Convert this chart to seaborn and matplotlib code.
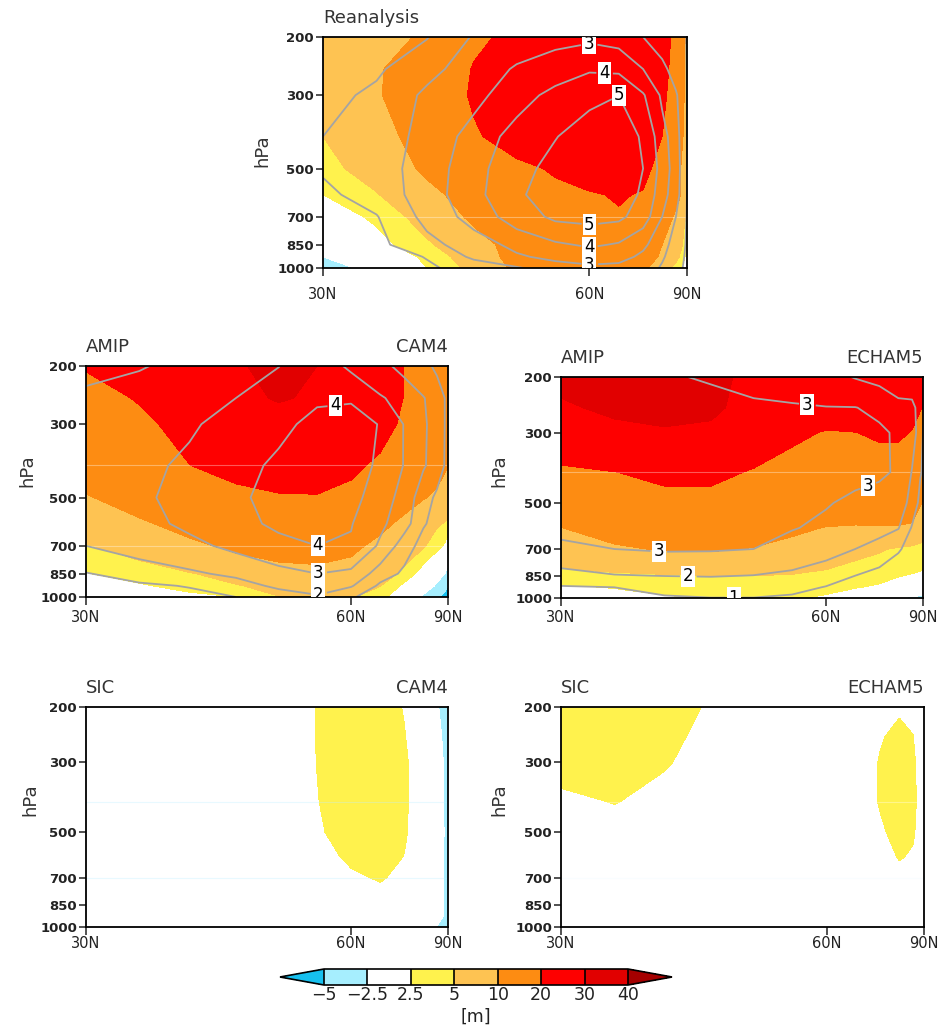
import numpy as np
import matplotlib
matplotlib.use("Agg")
import matplotlib.pyplot as plt
import seaborn as sns
from matplotlib.colors import ListedColormap, BoundaryNorm
from matplotlib.ticker import NullLocator, FuncFormatter

sns.set_style("ticks")
plt.rcParams["font.family"] = ["DejaVu Sans"]

# grid: latitude (deg N) and pressure level (hPa)
lats = [30, 35, 40, 45, 50, 55, 60, 65, 70, 75, 80, 85, 90]
plevs = [1000, 925, 850, 700, 600, 500, 400, 300, 250, 200]

# height anomaly [m], one row per pressure level (1000 -> 200), one column per latitude
rean_z = [
    [-4.5, -1.0, 2.5, 6.0, 11.0, 14.0, 15.0, 14.0, 11.0, 6.5, 4.0, 1.0, -3.0],
    [-2.5, 0.5, 3.0, 7.0, 12.0, 15.0, 17.0, 16.0, 13.0, 9.0, 6.0, 3.0, 0.0],
    [-1.0, 1.5, 4.5, 8.0, 12.0, 15.0, 17.0, 17.0, 15.0, 10.0, 7.5, 4.0, 2.0],
    [1.0, 3.0, 6.5, 11.0, 14.0, 17.0, 19.0, 19.5, 18.0, 13.0, 9.0, 5.5, 4.0],
    [2.5, 4.8, 8.5, 12.5, 15.5, 18.0, 19.5, 20.5, 19.5, 17.0, 12.0, 8.0, 6.0],
    [4.0, 6.5, 11.0, 14.0, 18.0, 21.0, 23.0, 24.0, 22.0, 17.0, 11.0, 9.0, 7.0],
    [5.0, 8.0, 12.5, 19.0, 24.0, 26.0, 27.0, 27.0, 25.0, 20.0, 14.0, 9.0, 7.5],
    [7.0, 9.5, 14.0, 21.0, 24.0, 26.0, 27.0, 27.0, 26.0, 22.0, 15.0, 10.0, 8.0],
    [7.5, 9.5, 13.0, 20.5, 24.0, 26.0, 27.0, 27.0, 26.0, 23.0, 16.0, 10.0, 8.0],
    [8.0, 8.8, 10.5, 18.5, 22.0, 24.0, 25.0, 25.0, 24.0, 22.0, 18.5, 10.5, 8.0],
]
rean_sn = [
    [0.0, 0.3, 0.85, 1.4, 1.9, 2.5, 2.8, 2.75, 2.4, 1.9, 1.3, 0.9, 0.5],
    [0.15, 0.5, 1.05, 2.2, 2.85, 3.3, 3.45, 3.3, 2.8, 2.1, 1.5, 1.0, 0.6],
    [0.3, 0.75, 1.7, 2.5, 3.3, 3.85, 4.15, 3.9, 3.2, 2.3, 1.6, 1.1, 0.7],
    [0.6, 0.95, 2.3, 3.4, 4.5, 5.2, 5.3, 5.2, 4.5, 3.0, 2.0, 1.3, 0.8],
    [0.8, 1.4, 2.5, 3.7, 4.85, 5.5, 5.7, 5.6, 4.8, 3.4, 2.3, 1.4, 0.9],
    [1.1, 1.6, 2.4, 3.7, 4.6, 5.4, 5.8, 5.8, 5.0, 3.6, 2.4, 1.4, 0.9],
    [1.0, 1.5, 2.3, 3.4, 4.4, 4.95, 5.6, 5.8, 4.8, 3.4, 2.3, 1.4, 0.9],
    [0.7, 1.2, 2.2, 2.7, 3.6, 4.3, 4.7, 5.0, 4.1, 2.8, 2.1, 1.3, 0.9],
    [0.5, 0.85, 1.7, 2.5, 3.1, 3.5, 3.9, 3.8, 3.0, 2.2, 1.6, 1.2, 0.9],
    [0.3, 0.6, 0.95, 2.1, 2.5, 2.7, 2.8, 2.6, 2.0, 1.6, 1.3, 1.1, 0.9],
]
cam4_amip_z = [
    [0.0, 0.8, 1.8, 2.5, 4.9, 5.5, 5.3, 3.3, 0.5, -3.0, -4.8, -5.8, -6.5],
    [1.2, 2.2, 3.4, 4.8, 6.0, 6.6, 6.0, 5.1, 1.8, -0.8, -3.0, -4.2, -5.5],
    [2.4, 3.5, 4.8, 6.3, 7.8, 8.5, 8.0, 6.5, 4.3, 1.0, -1.2, -2.6, -4.2],
    [4.8, 6.5, 8.8, 11.2, 12.8, 12.8, 11.2, 8.5, 6.8, 5.3, 3.3, 2.0, 0.5],
    [7.5, 9.2, 12.0, 15.0, 16.5, 16.5, 14.5, 11.5, 8.5, 6.5, 5.4, 4.7, 4.3],
    [9.6, 12.5, 15.0, 17.5, 19.2, 19.5, 18.0, 15.5, 12.5, 10.3, 9.0, 8.0, 7.5],
    [12.5, 15.0, 19.9, 23.0, 24.5, 24.0, 21.5, 18.5, 15.5, 13.5, 12.0, 10.5, 9.9],
    [15.0, 18.5, 22.5, 25.5, 27.5, 27.5, 25.5, 23.0, 18.5, 16.0, 14.5, 13.5, 13.0],
    [17.5, 20.5, 24.0, 28.5, 30.5, 29.2, 26.0, 23.5, 19.8, 17.0, 15.0, 14.0, 13.5],
    [20.5, 23.0, 25.0, 29.3, 32.0, 30.0, 27.0, 24.0, 19.8, 17.0, 15.0, 14.0, 13.5],
]
cam4_amip_sn = [
    [0.3, 0.5, 0.75, 1.0, 1.5, 1.9, 1.1, 0.5, 0.3, 0.25, 0.25, 0.25, 0.25],
    [0.6, 0.85, 1.05, 1.6, 2.2, 2.4, 2.1, 0.8, 0.45, 0.35, 0.3, 0.3, 0.3],
    [0.95, 1.4, 1.85, 2.2, 2.7, 3.0, 2.8, 1.5, 0.8, 0.5, 0.4, 0.35, 0.3],
    [2.0, 2.5, 2.75, 3.25, 3.7, 4.0, 3.9, 2.85, 1.45, 0.6, 0.45, 0.4, 0.4],
    [2.4, 2.7, 3.2, 3.7, 4.2, 4.35, 4.05, 3.2, 2.4, 1.1, 0.6, 0.5, 0.4],
    [2.55, 2.85, 3.3, 3.85, 4.3, 4.5, 4.3, 3.5, 2.6, 1.4, 0.8, 0.6, 0.5],
    [2.6, 2.8, 3.15, 3.65, 4.2, 4.5, 4.5, 3.8, 2.95, 2.1, 1.5, 0.9, 0.7],
    [2.7, 2.75, 2.9, 3.3, 3.75, 4.3, 4.4, 3.95, 2.95, 2.15, 1.5, 0.95, 0.7],
    [2.8, 2.7, 2.75, 3.0, 3.5, 3.85, 3.9, 3.1, 2.6, 2.05, 1.5, 0.95, 0.7],
    [3.3, 3.05, 2.8, 2.85, 2.98, 3.6, 2.8, 2.25, 1.7, 1.25, 0.8, 0.6, 0.5],
]
echam5_amip_z = [
    [1.2, 1.7, 2.3, 2.6, 2.7, 2.65, 2.3, 1.5, 0.0, -2.6, -3.0, -3.2, -3.5],
    [2.2, 2.6, 3.0, 3.3, 3.4, 3.2, 2.9, 2.6, 2.2, 1.7, 0.8, 0.0, -1.0],
    [3.8, 4.3, 4.7, 5.05, 5.0, 4.8, 4.2, 3.6, 3.2, 2.6, 2.35, 2.2, 2.1],
    [8.0, 9.5, 10.3, 10.5, 9.8, 8.5, 7.5, 6.0, 5.3, 4.6, 4.2, 3.8, 3.5],
    [9.95, 11.5, 13.0, 13.0, 12.0, 11.0, 9.8, 9.5, 9.6, 9.6, 9.3, 8.0, 7.0],
    [16.0, 17.0, 18.0, 18.0, 16.0, 15.0, 14.0, 13.5, 13.5, 13.5, 12.5, 10.3, 9.3],
    [18.5, 19.9, 21.5, 21.5, 19.5, 17.0, 16.0, 16.0, 16.5, 16.5, 16.0, 14.5, 13.0],
    [26.0, 28.0, 29.0, 28.5, 24.0, 21.5, 19.5, 19.9, 21.0, 21.0, 19.6, 17.0, 15.0],
    [29.0, 31.5, 33.0, 31.5, 27.0, 25.0, 24.0, 24.0, 24.0, 24.0, 23.0, 20.5, 19.5],
    [32.0, 33.0, 33.5, 32.0, 28.0, 26.0, 25.0, 25.0, 25.0, 25.0, 24.0, 23.0, 21.0],
]
echam5_amip_sn = [
    [0.6, 0.75, 0.9, 0.98, 0.98, 0.85, 0.6, 0.4, 0.2, 0.1, 0.0, 0.0, 0.0],
    [0.9, 1.0, 1.3, 1.5, 1.45, 1.3, 0.95, 0.7, 0.4, 0.2, 0.1, 0.0, 0.0],
    [1.7, 1.95, 2.02, 2.05, 1.98, 1.8, 1.5, 1.0, 0.7, 0.4, 0.2, 0.1, 0.0],
    [2.7, 3.0, 3.1, 3.08, 3.0, 2.7, 2.35, 2.0, 1.6, 1.1, 0.6, 0.3, 0.2],
    [3.35, 3.35, 3.3, 3.2, 3.1, 3.04, 2.85, 2.6, 2.35, 2.05, 0.9, 0.5, 0.3],
    [3.5, 3.5, 3.45, 3.35, 3.25, 3.15, 3.05, 2.85, 2.7, 2.4, 1.7, 0.6, 0.5],
    [3.6, 3.6, 3.55, 3.45, 3.35, 3.3, 3.25, 3.2, 3.12, 2.9, 1.95, 1.1, 0.7],
    [3.7, 3.7, 3.65, 3.55, 3.45, 3.35, 3.3, 3.25, 3.15, 2.85, 2.4, 1.45, 0.9],
    [3.6, 3.6, 3.5, 3.35, 3.15, 3.08, 3.03, 3.02, 2.8, 2.2, 2.2, 1.6, 1.2],
    [3.6, 3.5, 3.1, 2.9, 2.7, 2.6, 2.3, 1.95, 1.7, 1.6, 1.5, 1.3, 1.1],
]
cam4_sic_z = [
    [0.5, 0.6, 0.8, 0.9, 1.0, 1.0, 1.2, 1.2, 1.0, 0.3, -2.6, -3.2, -3.6],
    [0.5, 0.6, 0.8, 0.9, 1.0, 1.0, 1.3, 1.4, 1.1, 0.4, -1.8, -2.8, -3.5],
    [0.6, 0.7, 0.9, 1.0, 1.1, 1.1, 1.5, 1.6, 1.2, 0.5, -1.8, -2.8, -3.5],
    [0.7, 0.8, 1.0, 1.1, 1.2, 1.5, 2.2, 2.65, 2.0, 0.8, -1.8, -2.8, -3.5],
    [0.8, 0.9, 1.0, 1.2, 1.4, 1.9, 2.8, 3.1, 2.45, 1.0, -1.8, -2.8, -3.5],
    [0.8, 0.9, 1.0, 1.2, 1.5, 2.3, 3.2, 3.3, 2.75, 1.1, -1.6, -2.7, -3.5],
    [0.8, 0.9, 1.0, 1.2, 1.5, 2.45, 3.3, 3.3, 2.8, 1.2, -1.8, -2.8, -3.5],
    [0.8, 0.9, 1.0, 1.2, 1.5, 2.52, 3.3, 3.3, 2.8, 1.2, -1.8, -2.8, -3.5],
    [0.8, 0.9, 1.0, 1.2, 1.5, 2.55, 3.25, 3.25, 2.6, 1.1, -2.1, -2.9, -3.5],
    [0.8, 0.9, 1.0, 1.2, 1.5, 2.55, 3.2, 3.2, 2.4, 1.0, -2.4, -3.0, -3.5],
]
echam5_sic_z = [
    [1.0, 1.0, 0.9, 0.8, 0.7, 0.7, 0.8, 0.9, 1.0, 1.1, 1.0, 0.8, 0.6],
    [1.1, 1.1, 1.0, 0.9, 0.8, 0.8, 0.9, 1.0, 1.1, 1.2, 1.1, 0.9, 0.7],
    [1.3, 1.3, 1.2, 1.0, 0.9, 0.9, 1.0, 1.1, 1.3, 1.5, 1.3, 1.0, 0.8],
    [1.5, 1.5, 1.4, 1.2, 1.0, 1.0, 1.1, 1.3, 1.5, 2.0, 1.8, 1.3, 1.0],
    [1.7, 1.7, 1.6, 1.3, 1.1, 1.0, 1.2, 1.5, 1.9, 2.6, 2.3, 1.5, 1.1],
    [1.9, 1.9, 1.8, 1.4, 1.2, 1.1, 1.3, 1.7, 2.3, 3.0, 2.7, 1.6, 1.2],
    [2.2, 2.55, 2.1, 1.6, 1.3, 1.2, 1.4, 1.8, 2.6, 3.3, 2.9, 1.7, 1.2],
    [3.0, 3.1, 2.6, 2.0, 1.5, 1.3, 1.4, 1.7, 2.6, 3.2, 2.8, 1.6, 1.1],
    [3.3, 3.4, 2.9, 2.0, 1.6, 1.3, 1.4, 1.6, 2.4, 2.9, 2.55, 1.5, 1.0],
    [3.5, 3.6, 3.2, 2.3, 1.7, 1.4, 1.4, 1.5, 1.8, 2.3, 2.1, 1.2, 0.9],
]

shade_levels = [-5, -2.5, 2.5, 5, 10, 20, 30, 40]
shade_colors = ["#a6eefe", "#ffffff", "#fff24d", "#fec352", "#fd8c12", "#fe0000", "#e10000"]
under_color = "#16c0ef"
over_color = "#a50000"
line_levels = [1, 2, 3, 4, 5]
ytick_vals = [200, 300, 500, 700, 850, 1000]
xtick_vals = [30, 60, 90]
xtick_labels = ["30N", "60N", "90N"]

cmap = ListedColormap(shade_colors)
cmap.set_under(under_color)
cmap.set_over(over_color)
norm = BoundaryNorm(shade_levels, cmap.N)


def lat_to_sin(lat):
    return np.sin(np.deg2rad(lat))


def sin_to_lat(s):
    return np.rad2deg(np.arcsin(np.clip(s, -1, 1)))


def px_rect(x0, x1, y0, y1):
    # pixel box in the 950x1030 canvas -> figure fraction
    return [x0 / 950, 1 - y1 / 1030, (x1 - x0) / 950, (y1 - y0) / 1030]


fig = plt.figure(figsize=(9.5, 10.3), dpi=100)

panels = [
    dict(box=(323, 687, 37, 268), z=rean_z, sn=rean_sn, left="Reanalysis", right="",
         labels=[(60, 215), (62.5, 245), (65, 300), (60, 745), (60, 858), (60, 965)],
         faint=[(700, "white")], xpad=8, ylab=(-0.143, 0.51)),
    dict(box=(86, 448, 366, 597), z=cam4_amip_z, sn=cam4_amip_sn, left="AMIP", right="CAM4",
         labels=[(57.6, 259), (55.2, 706), (55.2, 856), (55.2, 986)],
         faint=[(400, "white"), (700, "white")], xpad=3, ylab=(-0.138, 0.545)),
    dict(box=(561, 923, 377, 598), z=echam5_amip_z, sn=echam5_amip_sn, left="AMIP", right="ECHAM5",
         labels=[(57.1, 251), (68.5, 483), (39.4, 727), (42.5, 855), (47.6, 985)],
         faint=[(400, "white")], xpad=3, ylab=(-0.146, 0.575)),
    dict(box=(86, 448, 707, 927), z=cam4_sic_z, sn=None, left="SIC", right="CAM4",
         labels=None, faint=[(400, "#bfeeff"), (700, "#bfeeff")], xpad=0.5, ylab=(-0.13, 0.577)),
    dict(box=(561, 924, 707, 927), z=echam5_sic_z, sn=None, left="SIC", right="ECHAM5",
         labels=None, faint=[(400, "white"), (700, "#eefbff")], xpad=0.5, ylab=(-0.146, 0.577)),
]

cf = None
for pan in panels:
    ax = fig.add_axes(px_rect(*pan["box"]))
    ax.set_xscale("function", functions=(lat_to_sin, sin_to_lat))
    ax.set_yscale("log")
    ax.set_xlim(30, 90)
    ax.set_ylim(1000, 200)

    cf = ax.contourf(lats, plevs, pan["z"], levels=shade_levels, cmap=cmap, norm=norm, extend="both")
    for p, c in pan["faint"]:
        ax.axhline(p, color=c, lw=0.8, alpha=0.35)

    if pan["sn"] is not None:
        cs = ax.contour(lats, plevs, pan["sn"], levels=line_levels, colors="#a4a4a4", linewidths=1.3)
        texts = ax.clabel(cs, fmt="%d", fontsize=12, inline=True, inline_spacing=3,
                          manual=pan["labels"])
        for t in texts:
            t.set_rotation(0)
            t.set_color("black")
            t.set_bbox(dict(boxstyle="square,pad=0.1", fc="white", ec="none"))

    ax.set_yticks(ytick_vals, labels=[str(v) for v in ytick_vals])
    ax.yaxis.set_minor_locator(NullLocator())
    ax.set_xticks(xtick_vals, labels=xtick_labels)
    ax.xaxis.set_minor_locator(NullLocator())
    ax.tick_params(axis="y", length=5, width=1.1, pad=1.5, labelsize=9.5, colors="#222222")
    ax.tick_params(axis="x", length=6, width=1.1, pad=pan["xpad"], labelsize=10.5, colors="#222222")
    for lab in ax.get_yticklabels():
        lab.set_fontweight("bold")
    for sp in ax.spines.values():
        sp.set_linewidth(1.3)
        sp.set_color("black")

    ax.set_ylabel("hPa", fontsize=13, color="#333333")
    ax.yaxis.set_label_coords(*pan["ylab"])

    ax.annotate(pan["left"], xy=(0, 1), xycoords="axes fraction", xytext=(0, 10),
                textcoords="offset points", ha="left", va="baseline", fontsize=13, color="#333333")
    if pan["right"]:
        ax.annotate(pan["right"], xy=(1, 1), xycoords="axes fraction", xytext=(0, 10),
                    textcoords="offset points", ha="right", va="baseline", fontsize=13,
                    color="#333333")

# colorbar box includes the two end triangles
cax = fig.add_axes(px_rect(280, 672, 969, 985))
cb = fig.colorbar(cf, cax=cax, orientation="horizontal", extend="both", extendfrac=0.145,
                  drawedges=True, ticks=shade_levels,
                  format=FuncFormatter(lambda v, _: f"{v:g}".replace("-", "\u2212")))
cb.outline.set_linewidth(1.2)
cb.outline.set_edgecolor("black")
cb.dividers.set_linewidth(1.2)
cb.dividers.set_color("black")
cb.ax.tick_params(length=0, labelsize=12.5, pad=0.5, colors="#222222")
cb.set_label("[m]", fontsize=12.5, labelpad=3, color="#222222")

fig.savefig("out.png", dpi=100)
